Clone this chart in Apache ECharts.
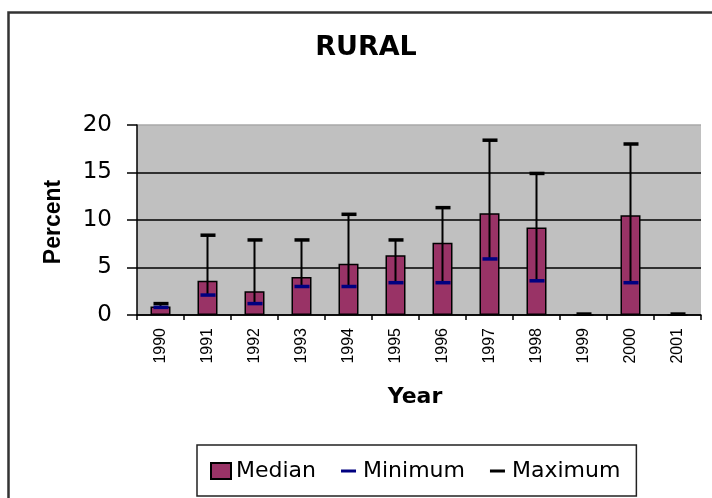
<!DOCTYPE html>
<html>
<head>
<meta charset="utf-8">
<script src="https://cdn.jsdelivr.net/npm/echarts@6/dist/echarts.min.js"></script>
<style>
html,body{margin:0;padding:0;background:#fff;}
#chart{width:712px;height:498px;}
</style>
</head>
<body>
<div id="chart"></div>
<script>
var categories = ['1990','1991','1992','1993','1994','1995','1996','1997','1998','1999','2000','2001'];
var median  = [0.9, 3.6, 2.5, 4.0, 5.4, 6.3, 7.6, 10.7, 9.2, 0, 10.5, 0];
var minimum = [0.8, 2.1, 1.2, 3.0, 3.0, 3.4, 3.4, 5.9, 3.6, null, 3.4, null];
var maximum = [1.2, 8.4, 7.9, 7.9, 10.6, 7.9, 11.3, 18.4, 14.9, 0.1, 18.0, 0.1];
var yTicks = [0, 5, 10, 15, 20];

function svgIcon(color){
  var svg = "<svg xmlns='http://www.w3.org/2000/svg' width='20' height='16' viewBox='0 0 20 16'><rect x='3' y='6.5' width='15' height='3' fill='" + color + "'/></svg>";
  return 'image://data:image/svg+xml;charset=utf-8,' + encodeURIComponent(svg);
}

var chart = echarts.init(document.getElementById('chart'), null, {renderer:'canvas'});

var maxData = categories.map(function(c, i){ return [i, maximum[i], minimum[i] == null ? maximum[i] : minimum[i]]; });
var minData = categories.map(function(c, i){ return [i, minimum[i]]; });

var option = {
  animation: false,
  backgroundColor: '#fff',
  title: {
    text: 'RURAL',
    left: 366,
    top: 34,
    padding: 0,
    textAlign: 'center',
    textStyle: {fontFamily: 'DejaVu Sans', fontWeight: 'bold', fontSize: 27, color: '#000'}
  },
  graphic: [
    {type: 'rect', silent: true, z: 100, shape: {x: 8.5, y: 12.5, width: 900, height: 700}, style: {fill: 'none', stroke: '#333', lineWidth: 2.5}},
    {type: 'text', silent: true, x: 54, y: 222, rotation: Math.PI/2,
      style: {text: 'Percent', font: 'bold 23px "Liberation Sans"', fill: '#000', textAlign: 'center', textVerticalAlign: 'middle'}},
    {type: 'text', silent: true, x: 415, y: 397,
      style: {text: 'Year', font: 'bold 22px "DejaVu Sans"', fill: '#000', textAlign: 'center', textVerticalAlign: 'middle'}}
  ],
  legend: {
    left: 197, top: 445,
    padding: [15, 16, 14, 13],
    borderColor: '#222', borderWidth: 1.5,
    itemWidth: 20, itemHeight: 16, itemGap: 22,
    textStyle: {fontFamily: 'DejaVu Sans', fontSize: 22, color: '#000', lineHeight: 18},
    data: [
      {name: 'Median', icon: 'rect'},
      {name: 'Minimum', icon: svgIcon('#000080')},
      {name: 'Maximum', icon: svgIcon('#000000')}
    ]
  },
  grid: {
    left: 137, right: 11, top: 125, bottom: 183,
    show: true, backgroundColor: '#c0c0c0', borderWidth: 0
  },
  xAxis: {
    type: 'category',
    data: categories,
    boundaryGap: true,
    axisLine: {lineStyle: {color: '#000', width: 1.5}},
    axisTick: {show: true, length: 5, lineStyle: {color: '#000', width: 1.5}},
    axisLabel: {rotate: 90, margin: 13, fontFamily: 'Liberation Sans', fontSize: 16, color: '#000', interval: 0},
    splitLine: {show: false}
  },
  yAxis: {
    type: 'value',
    min: yTicks[0], max: yTicks[yTicks.length-1], interval: 5,
    axisLine: {show: true, lineStyle: {color: '#000', width: 1.5}},
    axisTick: {show: true, length: 10, lineStyle: {color: '#000', width: 1.5}},
    axisLabel: {margin: 25, fontFamily: 'DejaVu Sans', fontSize: 23, color: '#000'},
    splitLine: {show: true, lineStyle: {color: ['#000', '#000', '#000', '#000', '#a8a8a8'], width: 1.6}}
  },
  series: [
    {
      name: 'Median', type: 'bar', data: median, barWidth: 20,
      itemStyle: {color: '#993366', borderColor: '#000', borderWidth: 1.5},
      z: 2
    },
    {
      name: 'Maximum', type: 'custom', data: maxData, z: 3,
      itemStyle: {color: '#000'},
      renderItem: function(params, api){
        var i = api.value(0);
        var top = api.coord([i, api.value(1)]);
        var bot = api.coord([i, api.value(2)]);
        if (isNaN(top[1])) return null;
        return {type: 'group', children: [
          {type: 'line', shape: {x1: top[0], y1: top[1], x2: bot[0], y2: bot[1]}, style: {stroke: '#000', lineWidth: 2}},
          {type: 'rect', shape: {x: top[0] - 7, y: top[1] - 1.75, width: 15, height: 3.5}, style: {fill: '#000'}}
        ]};
      }
    },
    {
      name: 'Minimum', type: 'custom', data: minData, z: 4,
      itemStyle: {color: '#000080'},
      renderItem: function(params, api){
        var v = api.value(1);
        if (v == null || isNaN(v)) return null;
        var p = api.coord([api.value(0), v]);
        return {type: 'rect', shape: {x: p[0] - 7, y: p[1] - 1.75, width: 15, height: 3.5}, style: {fill: '#000080'}};
      }
    }
  ]
};
chart.setOption(option);
</script>
</body>
</html>
